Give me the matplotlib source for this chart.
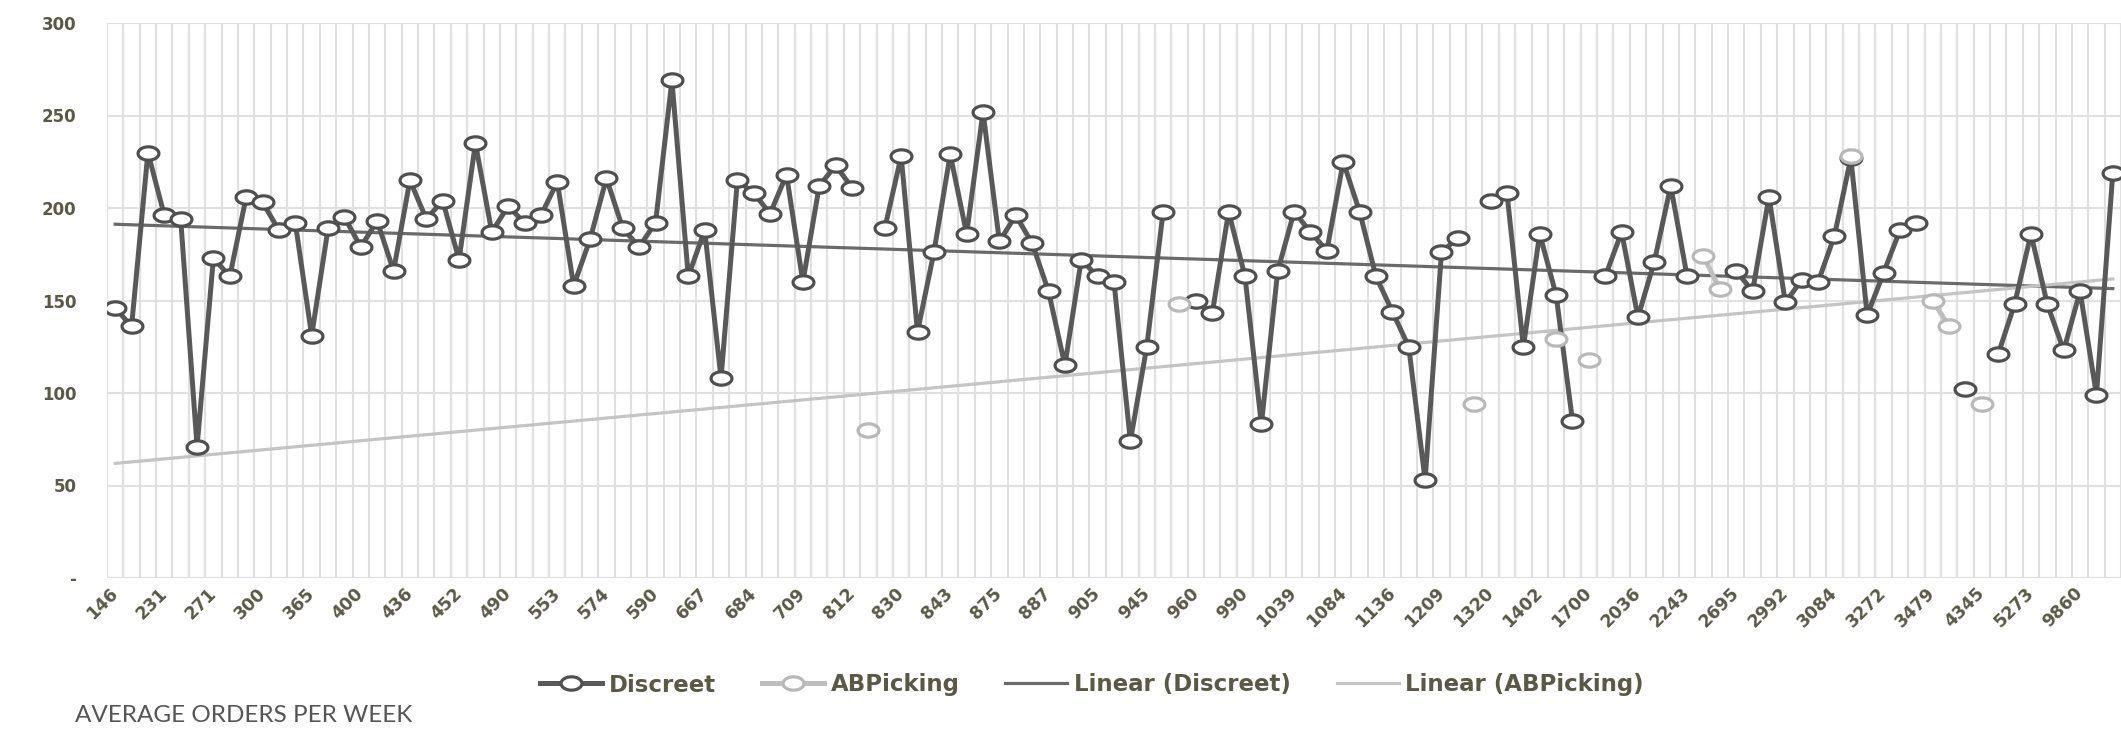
import numpy as np
import matplotlib
matplotlib.use('Agg')
import matplotlib.pyplot as plt
from matplotlib.path import Path

nan = np.nan

# only every third category gets a label on the axis
tick_labels = ['146', '231', '271', '300', '365', '400', '436', '452', '490', '553',
               '574', '590', '667', '684', '709', '812', '830', '843', '875', '887',
               '905', '945', '960', '990', '1039', '1084', '1136', '1209', '1320', '1402',
               '1700', '2036', '2243', '2695', '2992', '3084', '3272', '3479', '4345', '5273',
               '9860']

discreet = [146, 136, 230, 196, 194, 71, 173, 163, 206, 203,
            188, 192, 131, 189, 195, 179, 193, 166, 215, 194,
            204, 172, 235, 187, 201, 192, 196, 214, 158, 183,
            216, 189, 179, 192, 269, 163, 188, 108, 215, 208,
            197, 218, 160, 212, 223, 211, nan, 189, 228, 133,
            176, 229, 186, 252, 182, 196, 181, 155, 115, 172,
            163, 160, 74, 125, 198, nan, 150, 143, 198, 163,
            83, 166, 198, 187, 177, 225, 198, 163, 144, 125,
            53, 176, 184, nan, 204, 208, 125, 186, 153, 85,
            nan, 163, 187, 141, 171, 212, 163, nan, nan, 166,
            155, 206, 149, 161, 160, 185, 227, 142, 165, 188,
            192, nan, nan, 102, nan, 121, 148, 186, 148, 123,
            155, 99, 219]

ab_picking = [nan, nan, nan, nan, nan, nan, nan, nan, nan, nan,
              nan, nan, nan, nan, nan, nan, nan, nan, nan, nan,
              nan, nan, nan, nan, nan, nan, nan, nan, nan, nan,
              nan, nan, nan, nan, nan, nan, nan, nan, nan, nan,
              nan, nan, nan, nan, nan, nan, 80, nan, nan, nan,
              nan, nan, nan, nan, nan, nan, nan, nan, nan, nan,
              nan, nan, nan, nan, nan, 148, nan, nan, nan, nan,
              nan, nan, nan, nan, nan, nan, nan, nan, nan, nan,
              nan, nan, nan, 94, nan, nan, nan, nan, 129, nan,
              118, nan, nan, nan, nan, nan, nan, 174, 156, nan,
              nan, nan, nan, nan, nan, nan, 228, nan, nan, nan,
              nan, 150, 136, nan, 94, nan, nan, nan, nan, nan,
              nan, nan, nan]

discreet = np.array(discreet, dtype=float)
ab_picking = np.array(ab_picking, dtype=float)
n = len(discreet)
x = np.arange(n)

txt = '#5a5948'
dark = '#595959'
light = '#bfbfbf'

# squashed circle used as marker
t = np.linspace(0, 2 * np.pi, 61)
oval = Path(np.column_stack([np.cos(t), 0.64 * np.sin(t)]), closed=True)


def trend(y):
    ok = ~np.isnan(y)
    k, b = np.polyfit(x[ok], y[ok], 1)
    return k * x + b


fig = plt.figure(figsize=(21.21, 7.29), dpi=100)
ax = fig.add_axes([107 / 2121, 1 - 578 / 729, 2014 / 2121, 555 / 729])

ax.plot(x, discreet, color=dark, lw=3.6, marker=oval, ms=15, mfc='white',
        mec='#4f4f4f', mew=2.3, label='Discreet', zorder=3)
ax.plot(x, ab_picking, color=light, lw=3.6, marker=oval, ms=15, mfc='white',
        mec='#b8b8b8', mew=2.3, label='ABPicking', zorder=4)
ax.plot(x, trend(discreet), color='#6a6a6a', lw=2.3, label='Linear (Discreet)', zorder=2)
ax.plot(x, trend(ab_picking), color='#c4c4c4', lw=2.3, label='Linear (ABPicking)', zorder=2)

ax.set_xlim(-0.5, n - 0.5)
ax.set_ylim(0, 300)

ax.set_yticks(np.arange(0, 301, 50))
ax.set_yticklabels(['-'] + [str(v) for v in range(50, 301, 50)])
ax.set_xticks(x[::3])
ax.set_xticklabels(tick_labels, rotation=45, ha='right', va='center',
                   rotation_mode='anchor')
ax.set_xticks(np.arange(-0.5, n, 1), minor=True)

ax.grid(which='minor', axis='x', color='#e0e0e0', lw=1.5, zorder=0)
ax.grid(which='major', axis='y', color='#e0e0e0', lw=1.5, zorder=0)
ax.grid(which='major', axis='x', visible=False)
ax.set_axisbelow(True)
for s in ax.spines.values():
    s.set_visible(False)

ax.tick_params(axis='y', length=0, pad=22, labelsize=12, labelcolor=txt)
ax.tick_params(axis='x', which='both', length=0, pad=9, labelsize=12.5, labelcolor=txt)
for lab in ax.get_xticklabels() + ax.get_yticklabels():
    lab.set_fontweight('bold')

leg = fig.legend(loc='center', bbox_to_anchor=(1092 / 2121, 1 - 685 / 729), ncol=4,
                 frameon=False, handlelength=2.7, handletextpad=0.3, columnspacing=2.0,
                 numpoints=1, prop={'weight': 'bold', 'size': 16.5})
for tx in leg.get_texts():
    tx.set_color(txt)

fig.text(75 / 2121, 1 - 716 / 729, 'AVERAGE ORDERS PER WEEK', family='Lato',
         fontsize=17.5, color='#555555', va='center', ha='left')

fig.savefig('out.png', dpi=100)
